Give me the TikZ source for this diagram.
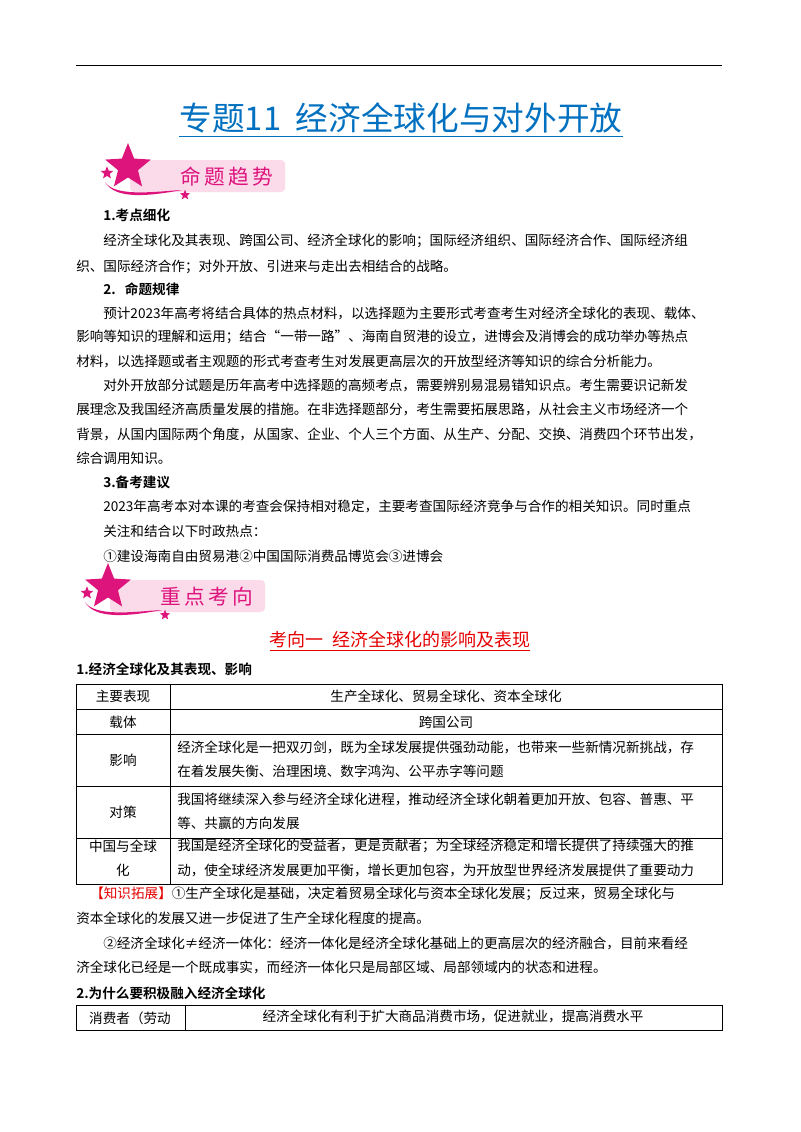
\documentclass[tikz,border=0pt]{standalone}
\usepackage{fontspec}
\setmainfont{Noto Sans CJK SC}[BoldFont={Noto Sans CJK SC Bold}]
\usetikzlibrary{shapes.geometric}
\definecolor{ttl}{RGB}{0,112,192}
\definecolor{mag}{RGB}{222,20,125}
\definecolor{lpink}{RGB}{251,218,234}
\definecolor{red1}{RGB}{230,0,0}
\tikzset{
 tx/.style={anchor=west,inner sep=0pt,font=\fontsize{10.2}{12}\selectfont},
 txc/.style={inner sep=0pt,font=\fontsize{10.2}{12}\selectfont},
 hd/.style={anchor=west,inner sep=0pt,font=\fontsize{10.2}{12}\selectfont\bfseries},
 cell/.style={draw=black,line width=0.6pt},
}
\newcommand{\banner}[3]{%
 \fill[lpink,rounded corners=3] (#1+30,#2-16) rectangle (#1+185,#2+16);
 \node[star,star points=5,star point ratio=2.3,fill=mag,minimum size=36,inner sep=0] (#3s) at (#1+28,#2-9) {};
 \node[star,star points=5,star point ratio=2.3,fill=mag,minimum size=10,inner sep=0] (#3t) at (#1+7,#2-3) {};
 \node[star,star points=5,star point ratio=2.3,fill=mag,minimum size=8,inner sep=0] (#3u) at (#1+85,#2+19) {};
 \fill[mag] (#1+5,#2+6) .. controls (#1+15,#2+22) and (#1+60,#2+15) .. (#1+82,#2+14) .. controls (#1+50,#2+20) and (#1+15,#2+24) .. (#1+5,#2+6);
}
\begin{document}
\begin{tikzpicture}[x=0.75pt,y=-0.75pt]
\useasboundingbox (0,0) rectangle (800,1132);
\fill[white] (0,0) rectangle (800,1132);
\draw[line width=0.7pt] (76,65) -- (722,65);
\node[inner sep=0pt,text=ttl,font=\fontsize{24.5}{28}\selectfont] (title) at (401,118) {专题11\ \ 经济全球化与对外开放};
\draw[ttl,line width=0.8pt] ([yshift=-2.3pt]title.south west) -- ([yshift=-2.3pt]title.south east);
% banner 1
\banner{100}{176}{ba}
\node[inner sep=0pt,text=mag,font=\fontsize{15.5}{18}\selectfont] (b1) at (227,177) {命\,题\,趋\,势};
\node[hd] (h1) at (103,215) {1.考点细化};
\node[tx] (l1) at (103,241) {经济全球化及其表现、跨国公司、经济全球化的影响；国际经济组织、国际经济合作、国际经济组};
\node[tx] (l2) at (76,267) {织、国际经济合作；对外开放、引进来与走出去相结合的战略。};
\node[hd] (h2) at (103,289) {2.\ \ \ 命题规律};
\node[tx] (l3) at (103,313) {预计2023年高考将结合具体的热点材料，以选择题为主要形式考查考生对经济全球化的表现、载体、};
\node[tx] (l4) at (76,337) {影响等知识的理解和运用；结合“一带一路”、海南自贸港的设立，进博会及消博会的成功举办等热点};
\node[tx] (l5) at (76,361) {材料，以选择题或者主观题的形式考查考生对发展更高层次的开放型经济等知识的综合分析能力。};
\node[tx] (l6) at (103,385) {对外开放部分试题是历年高考中选择题的高频考点，需要辨别易混易错知识点。考生需要识记新发};
\node[tx] (l7) at (76,409) {展理念及我国经济高质量发展的措施。在非选择题部分，考生需要拓展思路，从社会主义市场经济一个};
\node[tx] (l8) at (76,434) {背景，从国内国际两个角度，从国家、企业、个人三个方面、从生产、分配、交换、消费四个环节出发，};
\node[tx] (l9) at (76,458) {综合调用知识。};
\node[hd] (h3) at (103,482) {3.备考建议};
\node[tx] (l10) at (103,506) {2023年高考本对本课的考查会保持相对稳定，主要考查国际经济竞争与合作的相关知识。同时重点};
\node[tx] (l11) at (103,531) {关注和结合以下时政热点：};
\node[tx] (l12) at (103,556) {①建设海南自由贸易港②中国国际消费品博览会③进博会};
% banner 2
\banner{80}{596}{bb}
\node[inner sep=0pt,text=mag,font=\fontsize{15.5}{18}\selectfont] (b2) at (207,597) {重\,点\,考\,向};
\node[inner sep=0pt,text=red1,font=\fontsize{13.5}{16}\selectfont] (k1) at (400,640) {考向一\ \ 经济全球化的影响及表现};
\draw[red1,line width=0.7pt] ([yshift=-1.5pt]k1.south west) -- ([yshift=-1.5pt]k1.south east);
\node[hd] (h4) at (76,669) {1.经济全球化及其表现、影响};
% table 1
\draw[cell] (76,684) rectangle (722,884);
\foreach \yy in {709,734,786,838} \draw[cell] (76,\yy) -- (722,\yy);
\draw[cell] (170,684) -- (170,884);
\node[txc] (c11) at (123,696) {主要表现};
\node[txc] (c12) at (446,696) {生产全球化、贸易全球化、资本全球化};
\node[txc] (c21) at (123,722) {载体};
\node[txc] (c22) at (446,722) {跨国公司};
\node[txc] (c31) at (123,760) {影响};
\node[tx] (c32) at (177,747) {经济全球化是一把双刃剑，既为全球发展提供强劲动能，也带来一些新情况新挑战，存};
\node[tx] (c33) at (177,771) {在着发展失衡、治理困境、数字鸿沟、公平赤字等问题};
\node[txc] (c41) at (123,812) {对策};
\node[tx] (c42) at (177,799) {我国将继续深入参与经济全球化进程，推动经济全球化朝着更加开放、包容、普惠、平};
\node[tx] (c43) at (177,823) {等、共赢的方向发展};
\node[txc] (c51) at (123,846) {中国与全球};
\node[txc] (c52) at (123,870) {化};
\node[tx] (c53) at (177,846) {我国是经济全球化的受益者，更是贡献者；为全球经济稳定和增长提供了持续强大的推};
\node[tx] (c54) at (177,870) {动，使全球经济发展更加平衡，增长更加包容，为开放型世界经济发展提供了重要动力};
\node[tx] (z1) at (90,894) {\textcolor{red1}{【知识拓展】}①生产全球化是基础，决定着贸易全球化与资本全球化发展；反过来，贸易全球化与};
\node[tx] (z2) at (76,918) {资本全球化的发展又进一步促进了生产全球化程度的提高。};
\node[tx] (z3) at (103,943) {②经济全球化≠经济一体化：经济一体化是经济全球化基础上的更高层次的经济融合，目前来看经};
\node[tx] (z4) at (76,967) {济全球化已经是一个既成事实，而经济一体化只是局部区域、局部领域内的状态和进程。};
\node[hd] (h5) at (76,993) {2.为什么要积极融入经济全球化};
\draw[cell] (76,1005) rectangle (722,1030);
\draw[cell] (185,1005) -- (185,1030);
\node[txc] (d1) at (130,1018) {消费者（劳动};
\node[txc] (d2) at (453,1016) {经济全球化有利于扩大商品消费市场，促进就业，提高消费水平};
\end{tikzpicture}
\end{document}
